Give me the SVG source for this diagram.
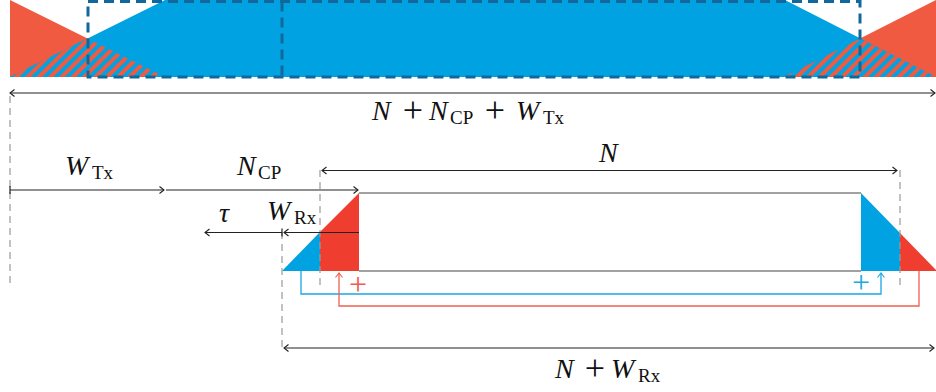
<svg xmlns="http://www.w3.org/2000/svg" width="936" height="392" viewBox="0 0 936 392">
<style>
.red1{fill:#f05a40}
.red2{fill:#ef3e2f}
.blue{fill:#00a2e1}
.ln{stroke:#222;stroke-width:1.2;fill:none}
.gd{stroke:#9a9a9a;stroke-width:1.2;stroke-dasharray:7 5;fill:none}
.dd{stroke:#11689a;stroke-width:3;stroke-dasharray:10 6;fill:none}
.m{font-family:"Liberation Serif","Times New Roman",serif;font-style:italic;font-size:28px;fill:#111}
.s{font-family:"Liberation Serif","Times New Roman",serif;font-size:19px;fill:#111}
.p{font-family:"Liberation Serif","Times New Roman",serif;font-size:36px;fill:#111;text-anchor:middle}
.cb{stroke:#1aa7e6;stroke-width:1.3;fill:none}
.cr{stroke:#f06052;stroke-width:1.3;fill:none}
</style>
<defs>
<marker id="ch" viewBox="-6 -5 8 10" markerWidth="8" markerHeight="10" refX="0" refY="0" orient="auto-start-reverse" markerUnits="userSpaceOnUse"><path d="M-4.5,-3.5 L0,0 L-4.5,3.5" fill="none" stroke="#222" stroke-width="1.1"/></marker>
<marker id="chb" viewBox="-6 -5 8 10" markerWidth="8" markerHeight="10" refX="0" refY="0" orient="auto-start-reverse" markerUnits="userSpaceOnUse"><path d="M-4.5,-3.5 L0,0 L-4.5,3.5" fill="none" stroke="#1aa7e6" stroke-width="1.1"/></marker>
<marker id="chr" viewBox="-6 -5 8 10" markerWidth="8" markerHeight="10" refX="0" refY="0" orient="auto-start-reverse" markerUnits="userSpaceOnUse"><path d="M-4.5,-3.5 L0,0 L-4.5,3.5" fill="none" stroke="#f06052" stroke-width="1.1"/></marker>
<pattern id="hatch" patternUnits="userSpaceOnUse" width="8" height="8" patternTransform="rotate(45)">
<rect x="0" y="0" width="8" height="8" fill="#00a2e1"/>
<rect x="0" y="0" width="4" height="8" fill="#f05a40"/>
</pattern>
</defs>

<g id="tx-signal">
<path class="red1" d="M10,0 L165,77 L10,77 Z"/>
<path class="red1" d="M936,0 L936,77 L784,77 Z"/>
<path class="blue" d="M10,77 L165,0 L785,0 L936,77 Z"/>
<path fill="url(#hatch)" d="M10,77 L87.5,38.5 L165,77 Z"/>
<path fill="url(#hatch)" d="M784,77 L860.25,38.4 L936,77 Z"/>
<rect class="dd" x="88" y="1.5" width="772" height="75.5"/>
<line class="dd" x1="282" y1="1.5" x2="282" y2="77"/>
</g>

<g id="rx-window">
<path class="blue" d="M282,271 L320,232 L320,271 Z"/>
<path class="red2" d="M320,232 L359,193 L359,271 L320,271 Z"/>
<path class="blue" d="M861,193 L900,233 L900,271 L861,271 Z"/>
<path class="red2" d="M900,233 L937,271 L900,271 Z"/>
<line x1="359" y1="193" x2="861" y2="193" stroke="#444" stroke-width="1.2"/>
<line x1="359" y1="271" x2="861" y2="271" stroke="#444" stroke-width="1.2"/>
</g>

<g id="guides">
<line class="gd" x1="10" y1="96" x2="10" y2="288"/>
<line class="gd" x1="320" y1="170" x2="320" y2="290"/>
<line class="gd" x1="900" y1="170" x2="900" y2="290"/>
<line class="gd" x1="282" y1="232" x2="282" y2="350"/>
</g>

<g id="connectors">
<line class="ln" x1="10" y1="93" x2="935" y2="93" marker-start="url(#ch)" marker-end="url(#ch)"/>
<line class="ln" x1="10" y1="190" x2="164" y2="190" marker-end="url(#ch)"/>
<line class="ln" x1="10" y1="186" x2="10" y2="194"/>
<line class="ln" x1="166" y1="190" x2="358" y2="190" marker-end="url(#ch)"/>
<line class="ln" x1="322" y1="170.5" x2="897" y2="170.5" marker-start="url(#ch)" marker-end="url(#ch)"/>
<line class="ln" x1="359" y1="232.5" x2="284" y2="232.5" marker-end="url(#ch)"/>
<line class="ln" x1="282" y1="232.5" x2="205" y2="232.5" marker-end="url(#ch)"/>
<line class="ln" x1="282" y1="228.5" x2="282" y2="236.5"/>
<line class="ln" x1="284" y1="348" x2="934" y2="348" marker-start="url(#ch)" marker-end="url(#ch)"/>
<path class="cb" d="M301,271 V294 H881 V273" marker-end="url(#chb)"/>
<path class="cr" d="M919,271 V306 H339 V273" marker-end="url(#chr)"/>
</g>

<g id="labels">
<text class="m" x="372" y="120">N</text>
<text class="p" x="413" y="122">+</text>
<text class="m" x="429" y="120">N</text>
<text class="s" x="450" y="124">CP</text>
<text class="p" x="495" y="122">+</text>
<text class="m" x="516" y="120">W</text>
<text class="s" x="543" y="124">Tx</text>

<text class="m" x="65" y="175">W</text>
<text class="s" x="92" y="179">Tx</text>
<text class="m" x="237" y="175">N</text>
<text class="s" x="258" y="179">CP</text>
<text class="m" x="599" y="162">N</text>
<text class="m" x="219" y="222">τ</text>
<text class="m" x="267" y="220">W</text>
<text class="s" x="294" y="224">Rx</text>

<text class="m" x="555" y="378">N</text>
<text class="p" x="595" y="380">+</text>
<text class="m" x="611" y="378">W</text>
<text class="s" x="638" y="382">Rx</text>

<text x="358" y="294.5" font-family="Liberation Serif, serif" font-size="32" fill="#f05a52" text-anchor="middle">+</text>
<text x="861" y="292.5" font-family="Liberation Serif, serif" font-size="32" fill="#1aa7e6" text-anchor="middle">+</text>
</g>
</svg>
